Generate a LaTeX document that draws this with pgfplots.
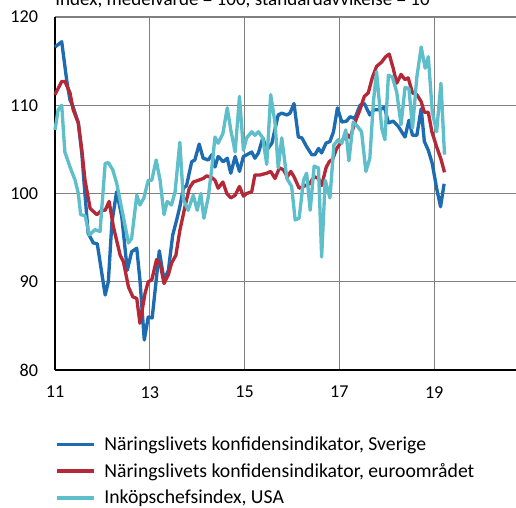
\documentclass[border=0pt]{standalone}
\usepackage{fontspec}
\setmainfont{Carlito}
\usepackage{pgfplots}
\pgfplotsset{compat=1.18}
\definecolor{seblue}{RGB}{29,107,176}
\definecolor{eured}{RGB}{181,40,56}
\definecolor{usacyan}{RGB}{94,190,201}
\definecolor{gridgray}{RGB}{128,128,128}
\begin{document}
\begin{tikzpicture}
\begin{axis}[
  at={(0pt,0pt)}, anchor=south west,
  scale only axis, width=345.75pt, height=264.75pt,
  xmin=0, xmax=116.7, ymin=80, ymax=120,
  axis x line*=bottom, axis y line*=left,
  axis line style={black, line width=1.1pt},
  xtick={0,24,48,72,96}, xticklabels={11,13,15,17,19},
  ytick={80,90,100,110,120},
  grid=major, grid style={gridgray, line width=0.8pt},
  major tick length=0pt,
  /pgf/number format/assume math mode=true,
  tick label style={font=\fontsize{13.6}{16}\selectfont},
  xticklabel style={inner sep=0pt, anchor=north, yshift=-12pt},
  yticklabel style={inner sep=0pt, anchor=east, xshift=-12.5pt},
  clip=false,
  legend style={draw=none, fill=none, inner sep=0pt,
    at={(0,-0.18)}, anchor=north west,
    font=\fontsize{14.8}{17}\selectfont, row sep=4.2pt, column sep=4.5pt,
    cells={anchor=west}},
  legend cell align=left,
  legend image code/.code={\draw[#1, line width=2.6pt] (0pt,0pt) -- (27.75pt,0pt);},
]
\addplot[seblue, line width=2.5pt, line join=round] coordinates {
(0,116.6)(1.7,117.2)(3.0,112.7)(3.8,110.6)(4.6,109.8)(5.9,108.0)(6.8,104.5)(7.3,101.5)(8.4,95.5)(9.7,94.4)(10.7,94.3)(12.7,88.5)(13.5,90.0)(14.4,96.7)(15.6,100.2)(16.9,97.4)(18.3,91.3)(19.4,93.4)(20.7,93.8)(21.5,90.2)(22.6,83.4)(23.6,86.0)(24.6,85.9)(26.4,93.5)(27.6,90.2)(28.7,91.3)(29.8,95.3)(30.8,97.0)(31.6,98.5)(32.5,100.6)(33.3,100.9)(34.6,103.6)(35.4,103.8)(36.5,105.6)(37.5,104.0)(38.8,103.8)(39.7,104.4)(40.5,103.0)(41.3,104.2)(42.6,103.6)(43.6,104.0)(44.5,102.3)(45.6,104.2)(46.7,102.5)(47.7,104.2)(48.6,104.4)(49.8,104.7)(50.6,104.0)(51.5,104.6)(52.6,106.3)(53.6,104.9)(54.9,105.7)(56.5,108.9)(57.4,109.1)(58.7,108.9)(59.5,109.1)(60.5,110.2)(61.6,106.4)(62.5,106.3)(63.7,105.3)(65.0,104.4)(65.8,104.4)(66.7,105.1)(67.5,104.6)(68.6,105.7)(69.6,105.9)(70.5,107.0)(71.5,109.7)(72.6,108.1)(73.8,108.2)(74.7,108.7)(75.9,108.5)(77.2,110.0)(78.3,110.2)(79.7,108.9)(80.8,109.5)(82.3,109.5)(83.4,109.8)(84.4,108.0)(85.6,108.2)(86.9,107.6)(88.6,106.4)(89.6,108.3)(90.5,106.6)(91.6,106.6)(92.7,109.6)(93.5,105.9)(94.5,104.9)(95.5,103.4)(96.6,100.6)(97.6,98.5)(98.5,101.1)
};
\addlegendentry{Näringslivets konfidensindikator, Sverige}
\addplot[eured, line width=2.5pt, line join=round] coordinates {
(0,111.2)(1.7,112.7)(2.5,112.7)(3.8,111.4)(4.6,109.5)(5.9,108.0)(6.8,104.9)(7.6,101.5)(8.9,98.3)(10.6,97.6)(11.8,98.1)(12.7,98.1)(13.7,99.1)(14.8,96.2)(16.5,93.0)(17.3,92.3)(18.6,89.4)(19.7,88.3)(20.7,88.1)(21.5,85.3)(22.8,88.7)(23.6,90.0)(24.5,90.2)(25.7,92.5)(26.6,92.1)(27.6,89.8)(28.7,90.8)(29.5,92.1)(30.6,93.0)(31.6,95.8)(32.9,98.5)(34.0,100.6)(35.0,101.3)(36.3,101.5)(37.5,101.7)(38.4,102.0)(39.7,101.8)(40.5,101.5)(41.3,100.6)(42.5,101.3)(43.5,100.0)(44.5,99.5)(45.6,99.8)(46.7,100.8)(47.7,99.7)(48.5,100.0)(49.8,100.2)(50.6,102.1)(51.9,102.1)(53.6,102.3)(54.6,102.5)(55.7,101.7)(56.8,102.9)(57.8,102.7)(58.8,101.9)(59.7,102.5)(60.5,101.9)(61.8,100.6)(62.9,100.8)(64.4,101.1)(65.6,101.9)(66.7,101.7)(67.5,100.9)(68.6,102.9)(69.4,103.6)(70.3,103.9)(71.3,105.1)(72.6,105.9)(73.7,106.8)(74.7,106.3)(75.9,108.0)(77.2,109.5)(78.3,111.0)(79.3,111.4)(80.3,113.1)(81.4,114.4)(82.7,114.9)(83.7,115.5)(84.6,115.8)(85.6,114.2)(86.5,112.5)(87.6,113.5)(88.6,112.9)(89.4,113.1)(90.5,111.4)(91.6,111.2)(92.7,110.4)(93.5,109.2)(94.5,109.2)(95.4,107.0)(96.6,105.3)(97.7,103.9)(98.6,102.4)
};
\addlegendentry{Näringslivets konfidensindikator, euroområdet}
\addplot[usacyan, line width=2.5pt, line join=round] coordinates {
(0,107.2)(0.8,109.5)(1.7,110.0)(2.5,104.7)(3.8,103.0)(5.1,101.5)(5.9,100.0)(6.5,97.6)(7.6,97.5)(8.7,95.3)(10.1,95.9)(11.4,95.7)(12.7,103.4)(13.5,103.5)(14.6,102.7)(15.6,101.2)(17.1,97.8)(18.6,94.4)(19.4,94.9)(20.7,99.8)(21.5,98.7)(22.5,99.5)(23.6,101.5)(24.5,101.5)(25.6,103.8)(26.6,101.5)(27.6,97.6)(28.4,99.1)(29.5,98.7)(30.4,100.2)(31.6,105.8)(32.5,99.3)(33.7,98.1)(35.0,99.8)(36.0,98.1)(36.9,100.0)(37.7,97.2)(38.8,99.6)(39.7,102.9)(40.5,106.4)(41.3,105.7)(42.5,106.8)(43.6,109.7)(44.5,107.2)(45.6,104.7)(46.7,111.0)(47.7,104.9)(48.5,106.3)(49.8,107.0)(50.6,106.6)(51.5,107.0)(52.6,106.3)(53.6,103.3)(54.6,111.2)(55.7,108.0)(56.5,102.9)(57.4,106.3)(58.7,101.7)(59.9,100.8)(60.8,97.0)(61.8,97.2)(62.9,101.5)(63.7,102.3)(64.6,98.1)(65.6,103.1)(66.7,102.9)(67.5,92.8)(68.4,101.5)(69.6,99.5)(70.6,105.5)(71.7,106.1)(72.6,105.7)(73.6,107.2)(74.4,103.7)(75.5,108.1)(76.6,107.6)(77.6,107.0)(78.7,102.5)(79.7,104.0)(80.6,110.4)(81.4,113.8)(82.7,107.4)(83.5,106.1)(84.4,113.4)(85.4,113.2)(86.5,111.5)(87.6,107.8)(88.6,112.0)(89.6,111.9)(90.5,107.4)(91.6,113.2)(92.7,116.6)(93.7,114.2)(94.5,115.5)(95.5,109.3)(96.6,107.0)(97.7,112.5)(98.6,104.4)
};
\addlegendentry{Inköpschefsindex, USA}
\end{axis}
\node[anchor=base west, inner sep=0pt, font=\fontsize{14.3}{17}\selectfont] at (0pt,273pt) {Index, medelvärde = 100, standardavvikelse = 10};
\pgfresetboundingbox
\path[use as bounding box] (-41.25pt,-102.75pt) rectangle (345.75pt,277.5pt);
\end{tikzpicture}
\end{document}
